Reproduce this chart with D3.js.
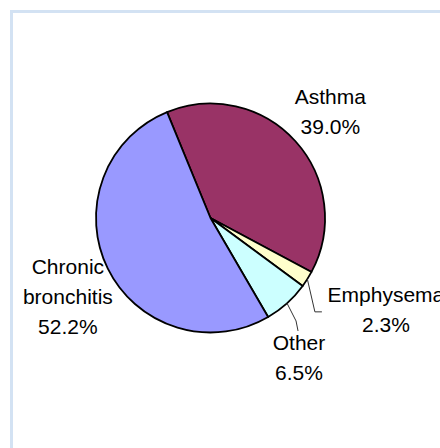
<!DOCTYPE html>
<html>
<head>
<meta charset="utf-8">
<script src="https://cdn.jsdelivr.net/npm/d3@7"></script>
<style>
  html, body { margin: 0; padding: 0; background: #ffffff; overflow: hidden; }
  text { font-family: "Liberation Sans", Arial, sans-serif; fill: #000; }
</style>
</head>
<body>
<svg id="chart" width="440" height="448"></svg>
<script>
// Share of cases by condition (percent)
const categories = ["Asthma", "Emphysema", "Other", "Chronic bronchitis"];
const nameLines  = [["Asthma"], ["Emphysema"], ["Other"], ["Chronic", "bronchitis"]];
const shares     = [39.0, 2.3, 6.5, 52.2];
const colors     = ["#993366", "#FFFFCC", "#CCFFFF", "#9999FF"];

// Label placement: [angle shift from slice middle (deg), distance from centre]
const labelPolar = [[0.6, 160], [-4.6, 198], [9.6, 165.6], [-2.7, 163]];
// Slices whose labels are tied back with a leader line
const leader = [false, true, true, false];

const svg = d3.select("#chart");
const W = 440, H = 448;
const cx = 210.5, cy = 218, R = 114.5;
const deg = Math.PI / 180;
const fontSize = 21, lineH = 30;

// Plot-area frame
svg.append("rect")
  .attr("x", 11.5).attr("y", 11.5)
  .attr("width", W + 20).attr("height", H + 20)
  .attr("fill", "#ffffff")
  .attr("stroke", "#d3e2f3")
  .attr("stroke-width", 3);

const data = categories.map((c, i) => ({ name: c, lines: nameLines[i], value: shares[i], color: colors[i], idx: i }));

const pie = d3.pie()
  .sort(null)
  .value(d => d.value)
  .startAngle(-22.3 * deg)
  .endAngle(-22.3 * deg + 2 * Math.PI);

const arcs = pie(data);
const arc = d3.arc().innerRadius(0).outerRadius(R);

const g = svg.append("g").attr("transform", `translate(${cx},${cy})`);

g.selectAll("path.slice")
  .data(arcs)
  .join("path")
  .attr("class", "slice")
  .attr("d", arc)
  .attr("fill", d => d.data.color)
  .attr("stroke", "#000")
  .attr("stroke-width", 1.8)
  .attr("stroke-linejoin", "round");

const fmt = d3.format(".1f");
const polar = (a, r) => [r * Math.sin(a), -r * Math.cos(a)];

arcs.forEach(a => {
  const i = a.data.idx;
  const mid = (a.startAngle + a.endAngle) / 2;
  const [lx, ly] = polar(mid + labelPolar[i][0] * deg, labelPolar[i][1]);
  const lines = a.data.lines.concat([fmt(a.data.value) + "%"]);
  const n = lines.length;

  const t = g.append("text")
    .attr("text-anchor", "middle")
    .attr("font-size", fontSize);
  lines.forEach((s, k) => {
    t.append("tspan")
      .attr("x", lx)
      .attr("y", ly + (k - (n - 1) / 2) * lineH)
      .attr("dy", "0.35em")
      .text(s);
  });

  if (leader[i]) {
    const [ex, ey] = polar(mid, R);
    let pts;
    if (Math.abs(lx - ex) > Math.abs(ly - ey)) {
      // label sits to the side: run to its left edge, centred vertically
      const endX = lx - 64, endY = ly + 2;
      pts = [[ex, ey], [endX - 7, endY], [endX, endY]];
    } else {
      // label sits below: drop onto its top edge
      const endX = lx - 1, endY = ly - (n - 1) / 2 * lineH - 12;
      pts = [[ex, ey], [endX - 2, endY - 10], [endX, endY]];
    }
    g.append("path")
      .attr("d", d3.line()(pts))
      .attr("fill", "none")
      .attr("stroke", "#333")
      .attr("stroke-width", 1);
  }
});
</script>
</body>
</html>
